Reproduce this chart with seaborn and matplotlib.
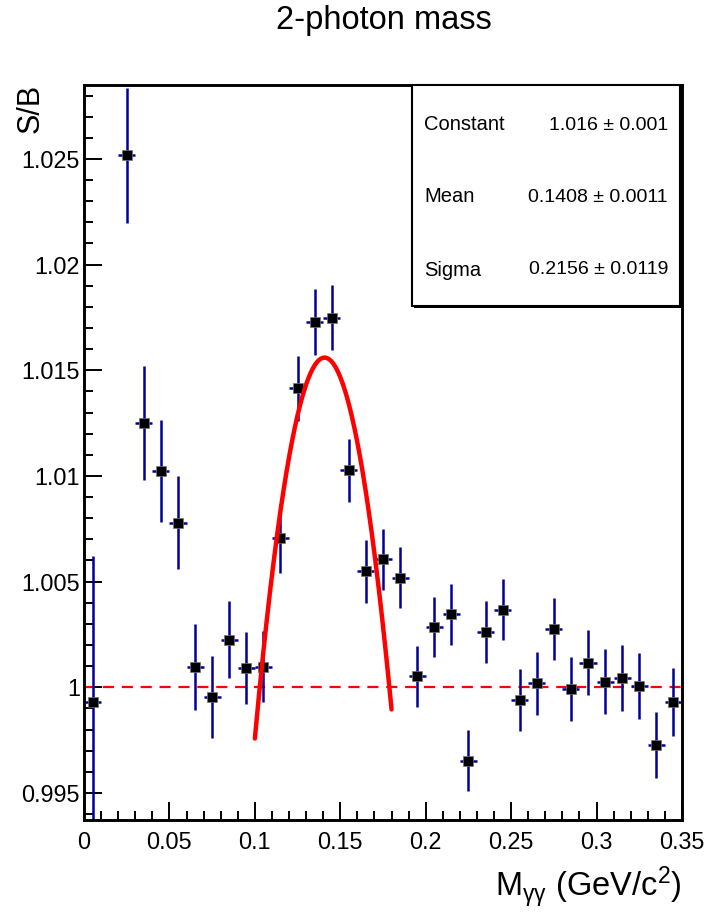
import numpy as np
import pandas as pd
import matplotlib
matplotlib.use("Agg")
import matplotlib.pyplot as plt
import seaborn as sns
from matplotlib.ticker import MultipleLocator

# ---- data ----
bin_centers = [0.005, 0.025, 0.035, 0.045, 0.055, 0.065, 0.075, 0.085, 0.095,
               0.105, 0.115, 0.125, 0.135, 0.145, 0.155, 0.165, 0.175, 0.185,
               0.195, 0.205, 0.215, 0.225, 0.235, 0.245, 0.255, 0.265, 0.275,
               0.285, 0.295, 0.305, 0.315, 0.325, 0.335, 0.345]
sb_values = [0.99929, 1.02518, 1.01252, 1.01023, 1.00779, 1.00096, 0.99954,
             1.00224, 1.00091, 1.00098, 1.00705, 1.01414, 1.01728, 1.01749,
             1.01026, 1.00549, 1.00605, 1.00519, 1.00052, 1.00285, 1.00345,
             0.99653, 1.00260, 1.00368, 0.99940, 1.00019, 1.00276, 0.99991,
             1.00117, 1.00027, 1.00043, 1.00005, 0.99727, 0.99932]
sb_errors = [0.0069, 0.0032, 0.0027, 0.0024, 0.0022, 0.00205, 0.00192,
             0.00182, 0.00172, 0.00166, 0.00162, 0.00156, 0.00155, 0.00155,
             0.0015, 0.00148, 0.00146, 0.00146, 0.00144, 0.00144, 0.00144,
             0.00143, 0.00146, 0.00146, 0.00147, 0.00148, 0.00148, 0.0015,
             0.00152, 0.00152, 0.00155, 0.00157, 0.00156, 0.00161]
bin_half_width = 0.005

fit_names = ["Constant", "Mean", "Sigma"]
fit_values = [1.0156, 0.1408, 0.2156]
fit_labels = ["1.016 \u00b1 0.001", "0.1408 \u00b1 0.0011", "0.2156 \u00b1 0.0119"]
fit_range = [0.10, 0.18]

x_ticks = [0, 0.05, 0.1, 0.15, 0.2, 0.25, 0.3, 0.35]
x_tick_labels = ["0", "0.05", "0.1", "0.15", "0.2", "0.25", "0.3", "0.35"]
y_ticks = [0.995, 1.0, 1.005, 1.01, 1.015, 1.02, 1.025]
y_tick_labels = ["0.995", "1", "1.005", "1.01", "1.015", "1.02", "1.025"]

df = pd.DataFrame({"m": bin_centers, "sb": sb_values, "err": sb_errors})

fx = np.linspace(fit_range[0], fit_range[1], 200)
C, mu, sig = fit_values
fit_df = pd.DataFrame({"m": fx, "f": C * np.exp(-0.5 * ((fx - mu) / sig) ** 2)})

# ---- plot ----
sns.set_theme(style="white")
plt.rcParams["font.family"] = ["Liberation Sans", "DejaVu Sans"]
plt.rcParams["text.color"] = "black"
plt.rcParams["mathtext.fontset"] = "custom"
plt.rcParams["mathtext.rm"] = "Liberation Sans"
plt.rcParams["mathtext.it"] = "Liberation Sans:italic"

fig = plt.figure(figsize=(7.10, 9.17), dpi=100)
ax = fig.add_axes([84 / 710, 1 - 820 / 917, (682 - 84) / 710, (820 - 85) / 917])

ax.axhline(1.0, color="#ff0000", lw=1.6, ls=(0, (5, 3.5)), zorder=1)

ax.errorbar(df["m"], df["sb"], yerr=df["err"], xerr=bin_half_width,
            fmt="none", ecolor="#000099", elinewidth=1.8, capsize=0, zorder=2)
sns.scatterplot(data=df, x="m", y="sb", marker="s", s=45, color="black",
                edgecolor="#777777", linewidth=0.5, ax=ax, zorder=3, legend=False)

sns.lineplot(data=fit_df, x="m", y="f", color="#ff0000", lw=3.2, ax=ax,
             zorder=4, legend=False)

ax.set_xlim(0, 0.35)
ax.set_ylim(0.99372, 1.0285)
ax.set_xticks(x_ticks)
ax.set_xticklabels(x_tick_labels)
ax.set_yticks(y_ticks)
ax.set_yticklabels(y_tick_labels)
ax.xaxis.set_minor_locator(MultipleLocator(0.01))
ax.yaxis.set_minor_locator(MultipleLocator(0.001))
ax.tick_params(which="both", direction="in", top=False, right=False,
               bottom=True, left=True, colors="black", labelsize=16.8,
               labelcolor="black")
ax.tick_params(which="major", length=13, width=1.4)
ax.tick_params(which="minor", length=6.5, width=1.4)
ax.tick_params(axis="x", which="major", pad=8)
ax.tick_params(axis="y", which="major", pad=3)
for sp in ax.spines.values():
    sp.set_color("black")
    sp.set_linewidth(2.1)
    sp.set_visible(True)

ax.set_xlabel("")
ax.set_ylabel("")
fig.text(682 / 710, 1 - 888 / 917, r"M$_{\rm γγ}$ (GeV/c$^{2}$)",
         ha="right", va="center", fontsize=23.5, color="black")
fig.text(31 / 710, 1 - 84 / 917, "S/B", rotation=90, ha="center", va="top",
         fontsize=22, color="black")
fig.text(384 / 710, 1 - 21 / 917, "2-photon mass", ha="center", va="center",
         fontsize=23.5, color="black")

# stats box
bx0, bx1, by0, by1 = 412 / 710, 680 / 710, 1 - 306 / 917, 1 - 85 / 917
shadow = plt.Rectangle((bx0 + 0.003, by0 - 0.002), bx1 - bx0, by1 - by0,
                       transform=fig.transFigure, facecolor="black",
                       edgecolor="none", zorder=5)
box = plt.Rectangle((bx0, by0), bx1 - bx0, by1 - by0, transform=fig.transFigure,
                    facecolor="white", edgecolor="black", lw=1.5, zorder=6)
fig.add_artist(shadow)
fig.add_artist(box)
rows_y = [125, 197, 270]
for name, lab, yy in zip(fit_names, fit_labels, rows_y):
    fig.text(424 / 710, 1 - yy / 917, name, ha="left", va="center",
             fontsize=14.5, zorder=7, color="black")
    fig.text(668 / 710, 1 - yy / 917, lab, ha="right", va="center",
             fontsize=14, zorder=7, color="black")

fig.savefig("out.png", dpi=100, facecolor="white")
